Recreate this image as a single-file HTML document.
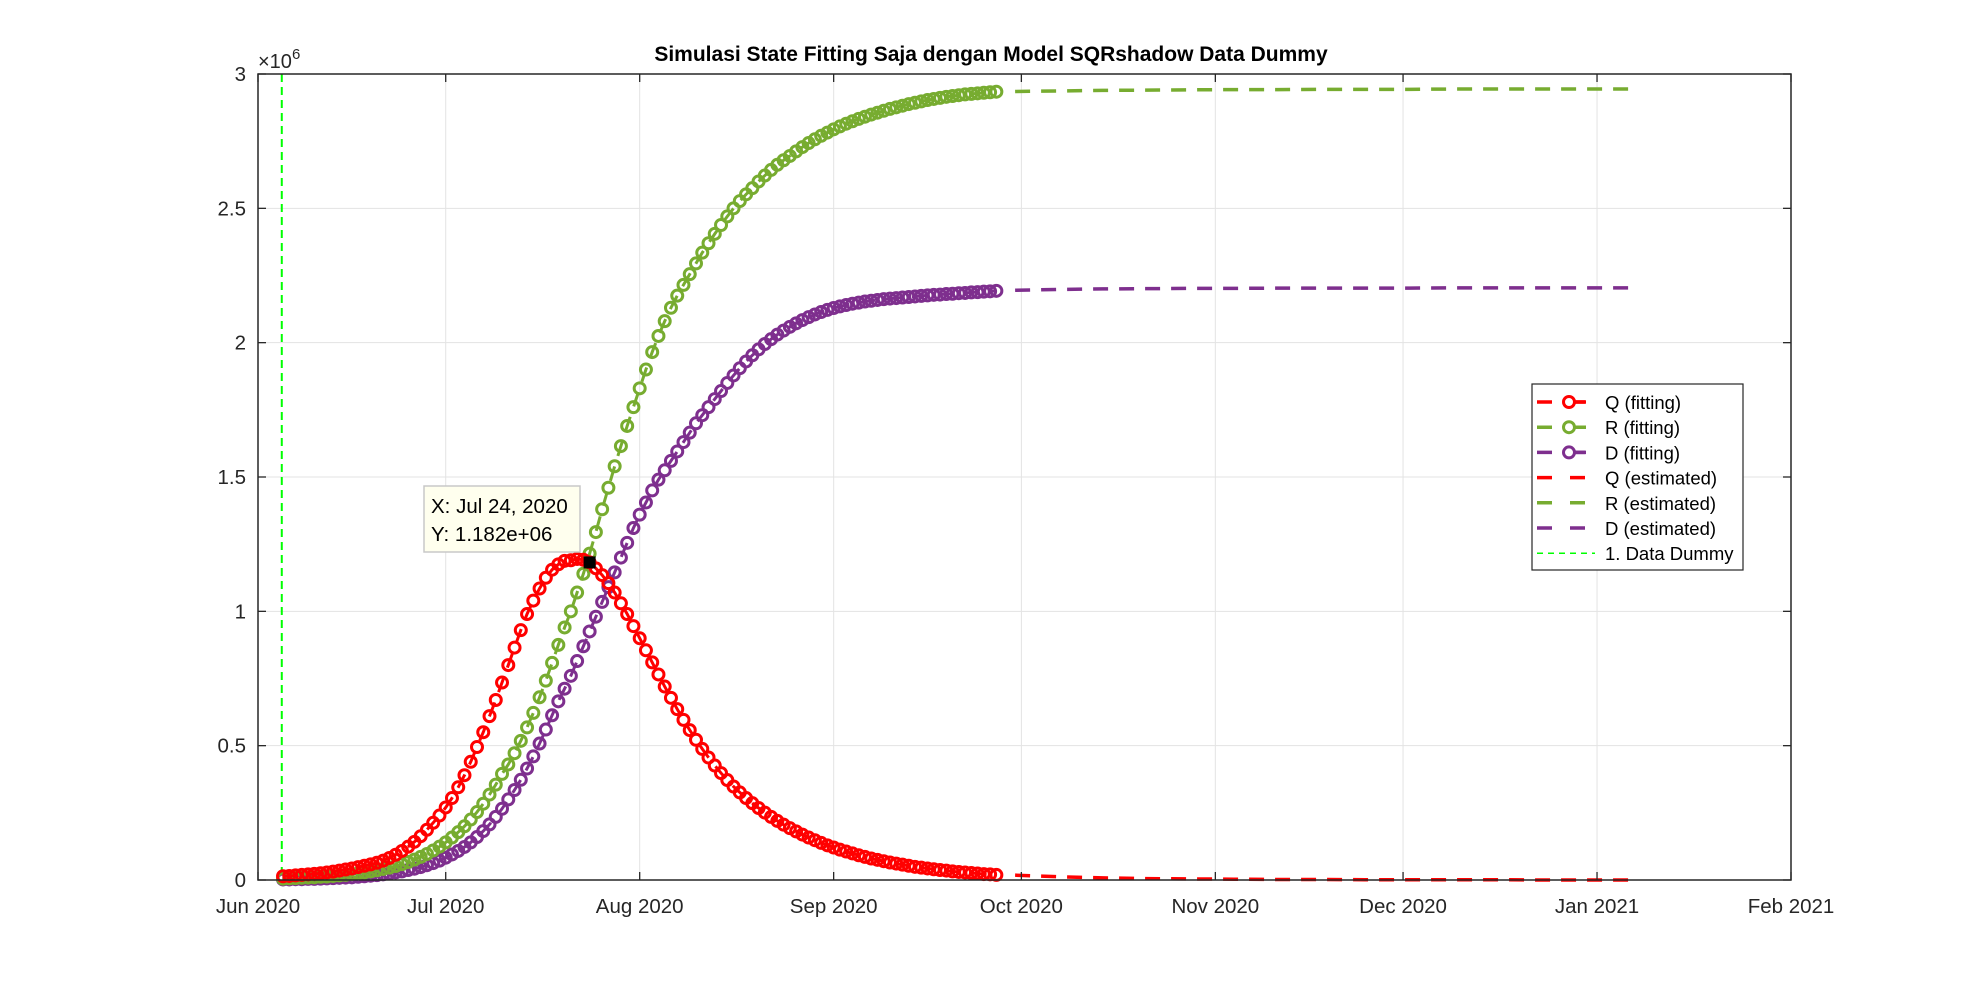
<!DOCTYPE html>
<html><head><meta charset="utf-8"><style>
html,body{margin:0;padding:0;background:#fff;}
svg{display:block;font-family:"Liberation Sans",Arial,sans-serif;}
</style></head><body>
<svg id="chart" width="1977" height="989" viewBox="0 0 1977 989" xmlns="http://www.w3.org/2000/svg">
<rect x="0" y="0" width="1977" height="989" fill="#fff"/>
<g id="grid"></g>
<g id="series"></g>
<g id="axes"></g>
<text x="991" y="61" text-anchor="middle" font-size="21" font-weight="bold" fill="#000">Simulasi State Fitting Saja dengan Model SQRshadow Data Dummy</text>
<text x="258" y="68" font-size="20" fill="#262626">×10<tspan dy="-9" font-size="15">6</tspan></text>
<g id="datatip">
<rect x="424" y="486" width="156" height="66" fill="#ffffee" stroke="#c8c8c8" stroke-width="1.5"/>
<text x="431" y="513" font-size="20.5" fill="#000">X: Jul 24, 2020</text>
<text x="431" y="541" font-size="20.5" fill="#000">Y: 1.182e+06</text>
</g>
<g id="legend"></g>
</svg>
<script>
const xTickDays=[0,30,61,92,122,153,183,214,245];
const xTickLabels=["Jun 2020","Jul 2020","Aug 2020","Sep 2020","Oct 2020","Nov 2020","Dec 2020","Jan 2021","Feb 2021"];
const yTicks=[0,500,1000,1500,2000,2500,3000];
const yTickLabels=["0","0.5","1","1.5","2","2.5","3"];
const fitStartDay=4;
const qFit=[14,15,17,19,21,23,25,28,31,35,39,43,48,53,58,64,
72,82,94,108,124,142,163,187,213,240,
270,305,345,390,440,495,550,610,670,735,
800,865,930,990,1040,1085,1125,1155,1175,1188,
1190,1195,1192,1182,
1160,1135,1105,1070,1030,990,
945,900,855,810,765,720,678,636,596,558,
522,488,456,426,398,372,348,326,305,286,
268,251,235,220,206,193,181,169,158,148,
138,129,121,113,106,99,92,86,80,75,
70,65,61,57,53,49,46,43,40,37,
35,32,30,28,26,24,22,21,19];
const rFit=[5,6,7,8,9,10,12,13,15,17,19,22,25,28,32,36,
41,46,52,59,67,76,86,97,110,124,
140,158,178,200,225,253,284,318,355,395,
430,472,518,568,622,680,742,808,875,940,
1000,1070,1140,1215,1295,1380,1460,1540,1615,1690,
1760,1830,1900,1965,2025,2080,2130,2175,2215,2255,
2295,2335,2370,2405,2438,2470,2500,2527,2552,2575,
2600,2622,2643,2662,2679,2695,2712,2728,2743,2757,
2770,2782,2794,2805,2815,2824,2833,2841,2849,2856,
2863,2870,2876,2882,2888,2893,2898,2903,2907,2911,
2915,2918,2921,2924,2926,2928,2930,2932,2934];
const dFit=[2,2,3,3,4,4,5,6,7,8,9,10,12,14,16,18,
21,24,28,32,37,42,48,55,63,72,
83,95,108,123,140,160,182,207,235,265,
300,335,373,415,460,508,560,613,665,712,
760,815,870,925,980,1035,1090,1145,1200,1255,
1310,1360,1405,1450,1490,1525,1560,1595,1630,1665,
1700,1730,1760,1790,1820,1850,1878,1905,1930,1953,
1975,1995,2013,2030,2045,2059,2072,2084,2095,2105,
2114,2122,2129,2135,2140,2145,2149,2153,2156,2159,
2162,2164,2166,2168,2170,2172,2174,2176,2178,2179,
2181,2182,2184,2185,2187,2188,2190,2191,2193];
const estDays=[121,128,135,142,149,156,163,170,177,184,191,198,205,212,219];
const qEst=[18,12,8,5,4,3,2,2,1,1,1,1,0,0,0];
const rEst=[2935,2937,2939,2940,2941,2942,2942,2943,2943,2943,2944,2944,2944,2944,2944];
const dEst=[2195,2198,2200,2201,2202,2202,2203,2203,2203,2203,2204,2204,2204,2204,2204];
const dummyDay=3.8;
const tipDay=53, tipValue=1182;

const NS="http://www.w3.org/2000/svg";
const L=258,R=1791,T=74,B=880,XMAX=245,YMAX=3000;
const xs=d=>L+d/XMAX*(R-L);
const ys=v=>B-v/YMAX*(B-T);
function mk(tag,attrs,parent){const e=document.createElementNS(NS,tag);for(const k in attrs)e.setAttribute(k,attrs[k]);parent.appendChild(e);return e;}
const grid=document.getElementById('grid'),axes=document.getElementById('axes'),ser=document.getElementById('series'),leg=document.getElementById('legend');
const C={q:"#ff0000",r:"#77ac30",d:"#7e2f8e",g:"#00ff00"};

xTickDays.forEach((d,i)=>{
  if(i>0&&i<xTickDays.length-1){const g=mk('line',{x1:xs(d),x2:xs(d),y1:T,y2:B,stroke:'#e3e3e3','stroke-width':1},grid);
  
  }
  const t1=mk('line',{x1:xs(d),x2:xs(d),y1:B,y2:B-8,stroke:'#262626','stroke-width':1.3},axes);
  
  
  const t2=mk('line',{x1:xs(d),x2:xs(d),y1:T,y2:T+8,stroke:'#262626','stroke-width':1.3},axes);
  
  
  const lb=mk('text',{x:xs(d),y:B+33,'text-anchor':'middle','font-size':20.5,fill:'#262626'},axes);
  lb.textContent=xTickLabels[i];
  
  
});
yTicks.forEach((v,i)=>{
  if(i>0&&i<yTicks.length-1){const g=mk('line',{x1:L,x2:R,y1:ys(v),y2:ys(v),stroke:'#e3e3e3','stroke-width':1},grid);
  
  }
  const t1=mk('line',{x1:L,x2:L+8,y1:ys(v),y2:ys(v),stroke:'#262626','stroke-width':1.3},axes);
  
  
  const t2=mk('line',{x1:R,x2:R-8,y1:ys(v),y2:ys(v),stroke:'#262626','stroke-width':1.3},axes);
  
  
  const lb=mk('text',{x:L-12,y:ys(v)+7,'text-anchor':'end','font-size':20.5,fill:'#262626'},axes);
  lb.textContent=yTickLabels[i];
  
  
});
const box=mk('rect',{x:L,y:T,width:R-L,height:B-T,fill:'none',stroke:'#262626','stroke-width':1.5},axes);



const vl=mk('line',{x1:xs(dummyDay),x2:xs(dummyDay),y1:T,y2:B,stroke:C.g,'stroke-width':2,'stroke-dasharray':'8,5'},ser);



function fitSeries(arr,col,name){
  const g=mk('g',{},ser);
  
  
  const pts=arr.map((v,i)=>xs(fitStartDay+i)+','+ys(v)).join(' ');
  mk('polyline',{points:pts,fill:'none',stroke:col,'stroke-width':3,'stroke-dasharray':'15,11'},g);
  arr.forEach((v,i)=>{const c=mk('circle',{cx:xs(fitStartDay+i),cy:ys(v),r:5.5,fill:'none',stroke:col,'stroke-width':3},g);
    
    });
}
function estSeries(arr,col,name){
  const pts=arr.map((v,i)=>xs(estDays[i])+','+ys(v)).join(' ');
  const p=mk('polyline',{points:pts,fill:'none',stroke:col,'stroke-width':3.5,'stroke-dasharray':'15,11'},ser);
  
  
}
fitSeries(dFit,C.d,'d-fitting');
fitSeries(rFit,C.r,'r-fitting');
fitSeries(qFit,C.q,'q-fitting');
estSeries(qEst,C.q,'q-estimated');
estSeries(rEst,C.r,'r-estimated');
estSeries(dEst,C.d,'d-estimated');

const tip=mk('rect',{x:xs(tipDay)-6,y:ys(tipValue)-6,width:12,height:12,fill:'#000'},document.getElementById('datatip'));



const lb=mk('rect',{x:1532,y:384,width:211,height:186,fill:'#fff',stroke:'#262626','stroke-width':1.2},leg);


const legItems=[["Q (fitting)",C.q,1],["R (fitting)",C.r,1],["D (fitting)",C.d,1],["Q (estimated)",C.q,0],["R (estimated)",C.r,0],["D (estimated)",C.d,0],["1. Data Dummy",C.g,2]];
legItems.forEach((it,i)=>{
  const y=402+i*25.2;
  const g=mk('g',{},leg);
  
  
  if(it[2]===2){mk('line',{x1:1537,x2:1595,y1:y,y2:y,stroke:it[1],'stroke-width':1.5,'stroke-dasharray':'6,5'},g);}
  else{mk('line',{x1:1537,x2:1586,y1:y,y2:y,stroke:it[1],'stroke-width':3.5,'stroke-dasharray':'15,18'},g);
    if(it[2]===1){mk('line',{x1:1569,x2:1586,y1:y,y2:y,stroke:it[1],'stroke-width':3.5},g);mk('circle',{cx:1569,cy:y,r:5.5,fill:'#fff',stroke:it[1],'stroke-width':3},g);}}
  const t=mk('text',{x:1605,y:y+7,'font-size':18.5,fill:'#000'},g);
  t.textContent=it[0];
});
</script>
</body></html>
